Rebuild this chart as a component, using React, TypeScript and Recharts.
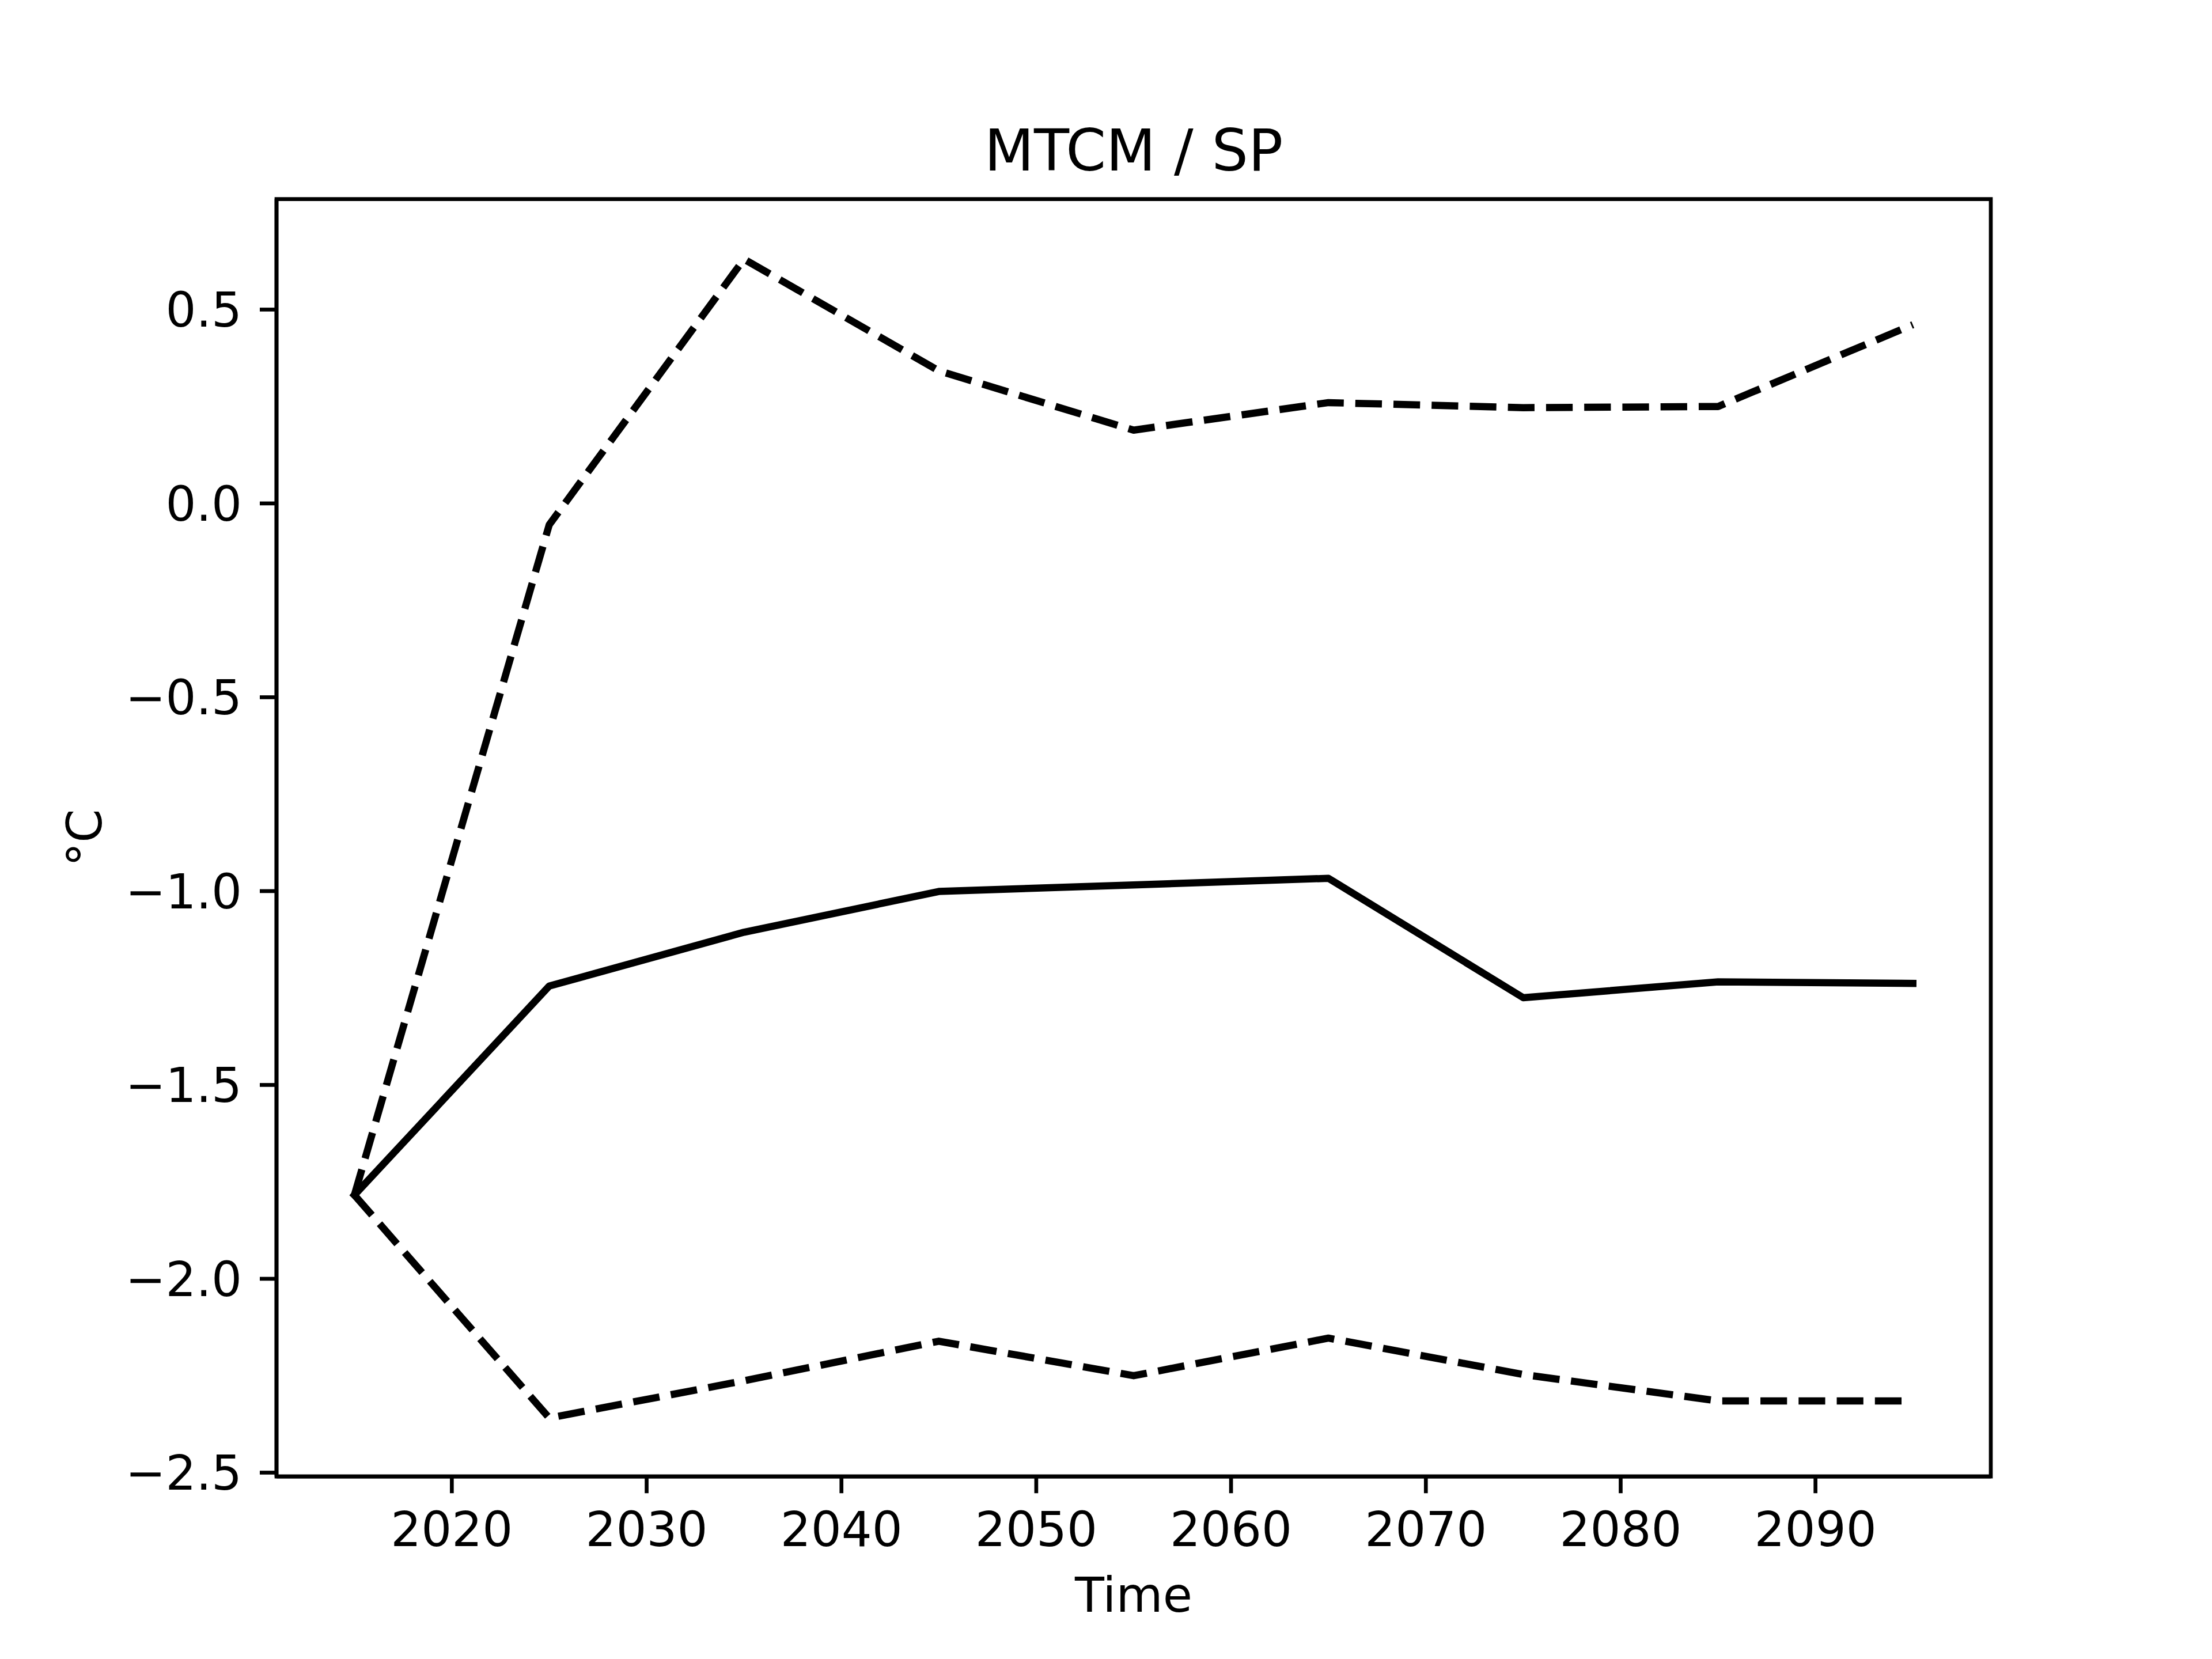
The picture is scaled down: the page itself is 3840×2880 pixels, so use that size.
import React from 'react';
import { LineChart, Line, XAxis, YAxis, Label, ReferenceArea } from 'recharts';

const years = [2015, 2025, 2035, 2045, 2055, 2065, 2075, 2085, 2095];
const meanVals = [-1.784, -1.245, -1.106, -1.001, -0.984, -0.967, -1.275, -1.234, -1.238];
const upperVals = [-1.784, -0.055, 0.63, 0.342, 0.189, 0.26, 0.247, 0.25, 0.461];
const lowerVals = [-1.784, -2.359, -2.263, -2.161, -2.25, -2.153, -2.247, -2.315, -2.315];

const xTicks = [2020, 2030, 2040, 2050, 2060, 2070, 2080, 2090];
const yTicks = [-2.5, -2.0, -1.5, -1.0, -0.5, 0.0, 0.5];

const xDomain: [number, number] = [2011, 2099];
const yDomain: [number, number] = [-2.51, 0.785];

const data = years.map((y, i) => ({
  year: y,
  mean: meanVals[i],
  upper: upperVals[i],
  lower: lowerVals[i],
}));

const FONT = '"DejaVu Sans", sans-serif';
const LW = 12.5; // 1.5pt @ 600dpi
const SPINE = 6.67;
const DASH = '46.25 20';

const fmtY = (v: number) => v.toFixed(1).replace('-', '\u2212');

export default function App() {
  return (
    <div style={{ position: 'absolute', left: 0, top: 0, width: 3840, height: 2880, background: '#fff' }}>
      <LineChart
        width={3840}
        height={2880}
        data={data}
        margin={{ top: 345.6, right: 384, bottom: 116.8, left: 280 }}
      >
        <XAxis
          dataKey="year"
          type="number"
          domain={xDomain}
          ticks={xTicks}
          allowDataOverflow
          height={200}
          stroke="#000"
          axisLine={{ stroke: '#000', strokeWidth: SPINE }}
          tickLine={{ stroke: '#000', strokeWidth: SPINE }}
          tickSize={29}
          tickMargin={33}
          tick={{ fill: '#000', fontSize: 83.33, fontFamily: FONT }}
        >
          <Label
            content={({ viewBox }: any) => (
              <text
                x={viewBox.x + viewBox.width / 2}
                y={viewBox.y + 235}
                textAnchor="middle"
                fontSize={83.33}
                fontFamily={FONT}
                fill="#000"
              >
                Time
              </text>
            )}
          />
        </XAxis>
        <YAxis
          type="number"
          domain={yDomain}
          ticks={yTicks}
          allowDataOverflow
          width={200}
          axisLine={{ stroke: '#000', strokeWidth: SPINE }}
          tickLine={{ stroke: '#000', strokeWidth: SPINE }}
          tickSize={29}
          tickMargin={31}
          tickFormatter={fmtY}
          tick={{ fill: '#000', fontSize: 83.33, fontFamily: FONT }}
        >
          <Label
            content={() => (
              <text
                x={176}
                y={1454.4}
                transform="rotate(-90, 176, 1454.4)"
                textAnchor="middle"
                fontSize={83.33}
                fontFamily={FONT}
                fill="#000"
              >
                °C
              </text>
            )}
          />
        </YAxis>
        <ReferenceArea
          x1={xDomain[0]}
          x2={xDomain[1]}
          y1={yDomain[0]}
          y2={yDomain[1]}
          ifOverflow="visible"
          fill="none"
          fillOpacity={0}
          stroke="#000"
          strokeWidth={SPINE}
          strokeOpacity={1}
        />
        <Line
          type="linear"
          dataKey="mean"
          stroke="#000"
          strokeWidth={LW}
          strokeLinecap="square"
          strokeLinejoin="round"
          dot={false}
          activeDot={false}
          isAnimationActive={false}
        />
        <Line
          type="linear"
          dataKey="upper"
          stroke="#000"
          strokeWidth={LW}
          strokeDasharray={DASH}
          strokeLinejoin="round"
          dot={false}
          activeDot={false}
          isAnimationActive={false}
        />
        <Line
          type="linear"
          dataKey="lower"
          stroke="#000"
          strokeWidth={LW}
          strokeDasharray={DASH}
          strokeLinejoin="round"
          dot={false}
          activeDot={false}
          isAnimationActive={false}
        />
      </LineChart>
      <svg
        width={3840}
        height={2880}
        style={{ position: 'absolute', left: 0, top: 0, pointerEvents: 'none' }}
      >
        <text x={1968} y={296} textAnchor="middle" fontSize={100} fontFamily={FONT} fill="#000">
          MTCM / SP
        </text>
      </svg>
    </div>
  );
}
